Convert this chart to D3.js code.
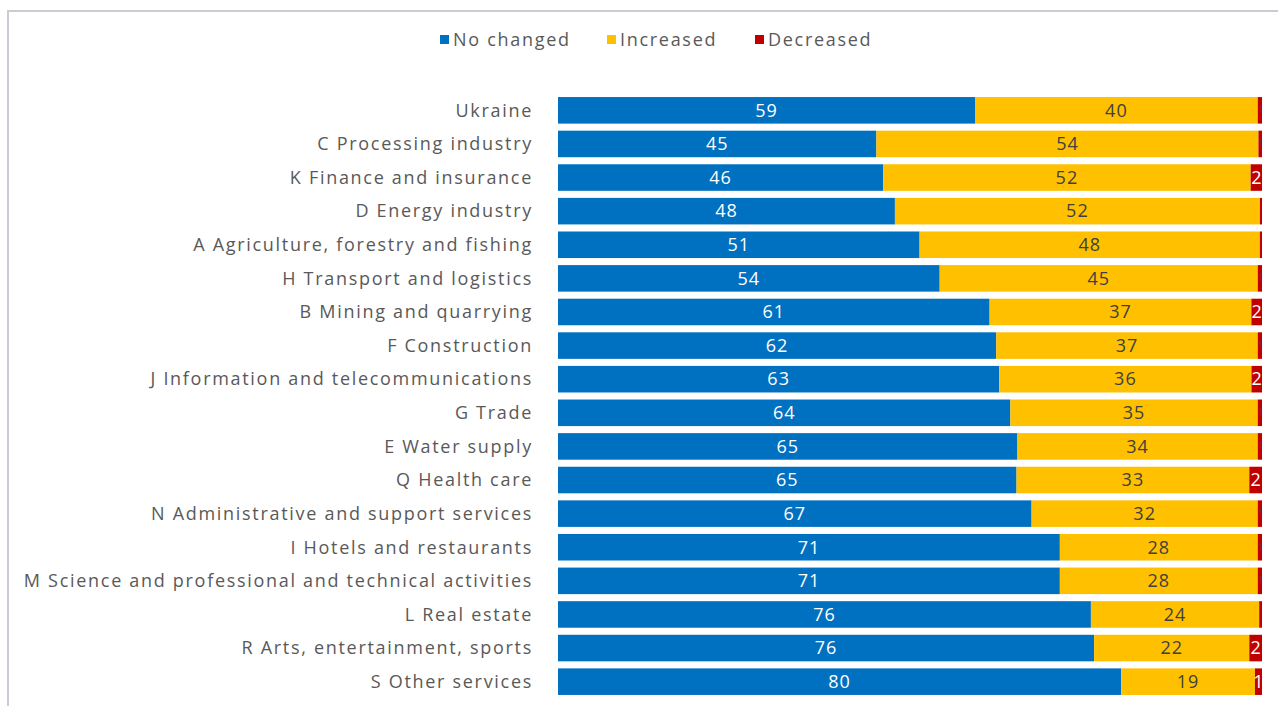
<!DOCTYPE html>
<html>
<head>
<meta charset="utf-8">
<script src="https://cdn.jsdelivr.net/npm/d3@7"></script>
<style>
  body { margin: 0; background: #fff; }
  svg { display: block; }
</style>
</head>
<body>
<svg id="chart" width="1278" height="706"></svg>
<script>
// Enterprise survey: share of answers by sector (%)

var categories = [
	"Ukraine",
	"C Processing industry",
	"K Finance and insurance",
	"D Energy industry",
	"A Agriculture, forestry and fishing",
	"H Transport and logistics",
	"B Mining and quarrying",
	"F Construction",
	"J Information and telecommunications",
	"G Trade",
	"E Water supply",
	"Q Health care",
	"N Administrative and support services",
	"I Hotels and restaurants",
	"M Science and professional and technical activities",
	"L Real estate",
	"R Arts, entertainment, sports",
	"S Other services"
];

var noChanged = [59, 45, 46, 48, 51, 54, 61, 62, 63, 64, 65, 65, 67, 71, 71, 76, 76, 80];
var increased = [40, 54, 52, 52, 48, 45, 37, 37, 36, 35, 34, 33, 32, 28, 28, 24, 22, 19];
var decreased = [0.6, 0.5, 1.6, 0.3, 0.3, 0.6, 1.5, 0.6, 1.5, 0.6, 0.6, 1.8, 0.6, 0.6, 0.6, 0.4, 1.8, 1.0];

var seriesNames = ["No changed", "Increased", "Decreased"];
var seriesKeys = ["nc", "inc", "dec"];
var colors = ["#0070C0", "#FFC000", "#C00000"];
var textColors = ["#ffffff", "#404040", "#ffffff"];

var fontFam = "'Open Sans', 'Noto Sans', sans-serif";
var fs = 18, ls = 1.7;

var rows = categories.map(function(c, i) {
	return { cat: c, nc: noChanged[i], inc: increased[i], dec: decreased[i] };
});

var stack = d3.stack().keys(seriesKeys).offset(d3.stackOffsetExpand);
var layers = stack(rows);

var x = d3.scaleLinear().domain([0, 1]).range([558, 1262]);
var y = d3.scaleBand().domain(categories).range([90, 702]).padding(0.21);

var svg = d3.select('#chart');

// frame
svg.append('rect')
	.attr('x', 8).attr('y', 11)
	.attr('width', 1300).attr('height', 720)
	.attr('fill', 'none')
	.attr('stroke', '#c9ccd3')
	.attr('stroke-width', 2);

// category labels
svg.append('g').selectAll('text')
	.data(categories)
	.enter().append('text')
	.attr('x', 533)
	.attr('y', function(d) { return y(d) + y.bandwidth() / 2; })
	.attr('dy', '0.35em')
	.attr('text-anchor', 'end')
	.attr('font-family', fontFam)
	.attr('font-size', fs)
	.attr('letter-spacing', ls)
	.attr('fill', '#595959')
	.text(function(d) { return d; });

// bars
var g = svg.selectAll('g.layer')
	.data(layers)
	.enter().append('g')
	.attr('class', 'layer')
	.attr('fill', function(d, i) { return colors[i]; });

g.selectAll('rect')
	.data(function(d) { return d; })
	.enter().append('rect')
	.attr('x', function(d) { return x(d[0]); })
	.attr('y', function(d) { return y(d.data.cat); })
	.attr('width', function(d) { return Math.max(1.5, x(d[1]) - x(d[0])); })
	.attr('height', y.bandwidth());

// value labels
g.selectAll('text')
	.data(function(d, i) { return d.map(function(p) { return { p: p, s: i }; }); })
	.enter().append('text')
	.filter(function(d) { return d.p.data[seriesKeys[d.s]] >= 0.45; })
	.attr('x', function(d) {
		var v = d.p.data.dec;
		if (d.s == 2 && v < 1) return x(d.p[1]) - 1;
		return (x(d.p[0]) + x(d.p[1])) / 2;
	})
	.attr('y', function(d) { return y(d.p.data.cat) + y.bandwidth() / 2; })
	.attr('dy', '0.35em')
	.attr('text-anchor', 'middle')
	.attr('font-family', fontFam)
	.attr('font-size', function(d) { return d.s == 2 && d.p.data.dec < 1 ? 10 : fs; })
	.attr('letter-spacing', function(d) { return d.s == 2 ? 0 : 1; })
	.attr('fill', function(d) { return d.s == 2 && d.p.data.dec < 1 ? '#404040' : textColors[d.s]; })
	.text(function(d) { return Math.max(1, Math.round(d.p.data[seriesKeys[d.s]])); });

// legend
var legendX = [440, 607, 755];
var lg = svg.append('g').selectAll('g')
	.data(seriesNames)
	.enter().append('g')
	.attr('transform', function(d, i) { return 'translate(' + legendX[i] + ',40)'; });

lg.append('rect')
	.attr('x', 0).attr('y', -5)
	.attr('width', 9).attr('height', 9)
	.attr('fill', function(d, i) { return colors[i]; });

lg.append('text')
	.attr('x', 13)
	.attr('dy', '0.35em')
	.attr('font-family', fontFam)
	.attr('font-size', fs)
	.attr('letter-spacing', ls)
	.attr('fill', '#595959')
	.text(function(d) { return d; });
</script>
</body>
</html>
